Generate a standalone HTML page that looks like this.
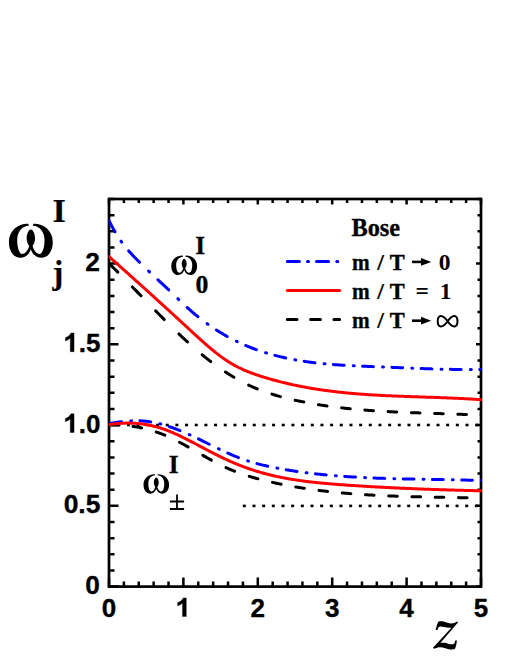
<!DOCTYPE html>
<html><head><meta charset="utf-8"><title>chart</title>
<style>html,body{margin:0;padding:0;background:#fff;}body{width:510px;height:659px;position:relative;overflow:hidden;font-family:"Liberation Sans",sans-serif;}</style>
</head><body>
<svg width="510" height="659" viewBox="0 0 510 659" style="position:absolute;left:0;top:0">
<defs><clipPath id="cp"><rect x="108.70" y="199.00" width="373.20" height="387.60"/></clipPath></defs>
<g fill="#000"><rect x="117.37" y="423.70" width="3" height="2.6"/><rect x="127.04" y="423.70" width="3" height="2.6"/><rect x="136.71" y="423.70" width="3" height="2.6"/><rect x="146.38" y="423.70" width="3" height="2.6"/><rect x="156.05" y="423.70" width="3" height="2.6"/><rect x="165.72" y="423.70" width="3" height="2.6"/><rect x="175.39" y="423.70" width="3" height="2.6"/><rect x="185.06" y="423.70" width="3" height="2.6"/><rect x="194.73" y="423.70" width="3" height="2.6"/><rect x="204.40" y="423.70" width="3" height="2.6"/><rect x="214.07" y="423.70" width="3" height="2.6"/><rect x="223.74" y="423.70" width="3" height="2.6"/><rect x="233.41" y="423.70" width="3" height="2.6"/><rect x="243.08" y="423.70" width="3" height="2.6"/><rect x="252.75" y="423.70" width="3" height="2.6"/><rect x="262.42" y="423.70" width="3" height="2.6"/><rect x="272.09" y="423.70" width="3" height="2.6"/><rect x="281.76" y="423.70" width="3" height="2.6"/><rect x="291.43" y="423.70" width="3" height="2.6"/><rect x="301.10" y="423.70" width="3" height="2.6"/><rect x="310.77" y="423.70" width="3" height="2.6"/><rect x="320.44" y="423.70" width="3" height="2.6"/><rect x="330.11" y="423.70" width="3" height="2.6"/><rect x="339.78" y="423.70" width="3" height="2.6"/><rect x="349.45" y="423.70" width="3" height="2.6"/><rect x="359.12" y="423.70" width="3" height="2.6"/><rect x="368.79" y="423.70" width="3" height="2.6"/><rect x="378.46" y="423.70" width="3" height="2.6"/><rect x="388.13" y="423.70" width="3" height="2.6"/><rect x="397.80" y="423.70" width="3" height="2.6"/><rect x="407.47" y="423.70" width="3" height="2.6"/><rect x="417.14" y="423.70" width="3" height="2.6"/><rect x="426.81" y="423.70" width="3" height="2.6"/><rect x="436.48" y="423.70" width="3" height="2.6"/><rect x="446.15" y="423.70" width="3" height="2.6"/><rect x="455.82" y="423.70" width="3" height="2.6"/><rect x="465.49" y="423.70" width="3" height="2.6"/><rect x="475.16" y="423.70" width="3" height="2.6"/><rect x="242.80" y="504.60" width="3" height="2.6"/><rect x="252.47" y="504.60" width="3" height="2.6"/><rect x="262.14" y="504.60" width="3" height="2.6"/><rect x="271.81" y="504.60" width="3" height="2.6"/><rect x="281.48" y="504.60" width="3" height="2.6"/><rect x="291.15" y="504.60" width="3" height="2.6"/><rect x="300.82" y="504.60" width="3" height="2.6"/><rect x="310.49" y="504.60" width="3" height="2.6"/><rect x="320.16" y="504.60" width="3" height="2.6"/><rect x="329.83" y="504.60" width="3" height="2.6"/><rect x="339.50" y="504.60" width="3" height="2.6"/><rect x="349.17" y="504.60" width="3" height="2.6"/><rect x="358.84" y="504.60" width="3" height="2.6"/><rect x="368.51" y="504.60" width="3" height="2.6"/><rect x="378.18" y="504.60" width="3" height="2.6"/><rect x="387.85" y="504.60" width="3" height="2.6"/><rect x="397.52" y="504.60" width="3" height="2.6"/><rect x="407.19" y="504.60" width="3" height="2.6"/><rect x="416.86" y="504.60" width="3" height="2.6"/><rect x="426.53" y="504.60" width="3" height="2.6"/><rect x="436.20" y="504.60" width="3" height="2.6"/><rect x="445.87" y="504.60" width="3" height="2.6"/><rect x="455.54" y="504.60" width="3" height="2.6"/><rect x="465.21" y="504.60" width="3" height="2.6"/><rect x="474.88" y="504.60" width="3" height="2.6"/></g>
<rect x="109.0" y="199.0" width="372.0" height="387.6" fill="none" stroke="#000" stroke-width="2.7"/>
<path d="M109.00,586.6 v-9.0 M109.00,199.0 v5.4 M123.88,586.6 v-5.0 M123.88,199.0 v3.9 M138.76,586.6 v-5.0 M138.76,199.0 v3.9 M153.64,586.6 v-5.0 M153.64,199.0 v3.9 M168.52,586.6 v-5.0 M168.52,199.0 v3.9 M183.40,586.6 v-9.0 M183.40,199.0 v5.4 M198.28,586.6 v-5.0 M198.28,199.0 v3.9 M213.16,586.6 v-5.0 M213.16,199.0 v3.9 M228.04,586.6 v-5.0 M228.04,199.0 v3.9 M242.92,586.6 v-5.0 M242.92,199.0 v3.9 M257.80,586.6 v-9.0 M257.80,199.0 v5.4 M272.68,586.6 v-5.0 M272.68,199.0 v3.9 M287.56,586.6 v-5.0 M287.56,199.0 v3.9 M302.44,586.6 v-5.0 M302.44,199.0 v3.9 M317.32,586.6 v-5.0 M317.32,199.0 v3.9 M332.20,586.6 v-9.0 M332.20,199.0 v5.4 M347.08,586.6 v-5.0 M347.08,199.0 v3.9 M361.96,586.6 v-5.0 M361.96,199.0 v3.9 M376.84,586.6 v-5.0 M376.84,199.0 v3.9 M391.72,586.6 v-5.0 M391.72,199.0 v3.9 M406.60,586.6 v-9.0 M406.60,199.0 v5.4 M421.48,586.6 v-5.0 M421.48,199.0 v3.9 M436.36,586.6 v-5.0 M436.36,199.0 v3.9 M451.24,586.6 v-5.0 M451.24,199.0 v3.9 M466.12,586.6 v-5.0 M466.12,199.0 v3.9 M481.00,586.6 v-9.0 M481.00,199.0 v5.4 M109.0,586.60 h9.5 M481.0,586.60 h-5.0 M109.0,570.45 h5.5 M481.0,570.45 h-3.5 M109.0,554.30 h5.5 M481.0,554.30 h-3.5 M109.0,538.15 h5.5 M481.0,538.15 h-3.5 M109.0,522.00 h5.5 M481.0,522.00 h-3.5 M109.0,505.85 h9.5 M481.0,505.85 h-5.0 M109.0,489.70 h5.5 M481.0,489.70 h-3.5 M109.0,473.55 h5.5 M481.0,473.55 h-3.5 M109.0,457.40 h5.5 M481.0,457.40 h-3.5 M109.0,441.25 h5.5 M481.0,441.25 h-3.5 M109.0,425.10 h9.5 M481.0,425.10 h-5.0 M109.0,408.95 h5.5 M481.0,408.95 h-3.5 M109.0,392.80 h5.5 M481.0,392.80 h-3.5 M109.0,376.65 h5.5 M481.0,376.65 h-3.5 M109.0,360.50 h5.5 M481.0,360.50 h-3.5 M109.0,344.35 h9.5 M481.0,344.35 h-5.0 M109.0,328.20 h5.5 M481.0,328.20 h-3.5 M109.0,312.05 h5.5 M481.0,312.05 h-3.5 M109.0,295.90 h5.5 M481.0,295.90 h-3.5 M109.0,279.75 h5.5 M481.0,279.75 h-3.5 M109.0,263.60 h9.5 M481.0,263.60 h-5.0 M109.0,247.45 h5.5 M481.0,247.45 h-3.5 M109.0,231.30 h5.5 M481.0,231.30 h-3.5 M109.0,215.15 h5.5 M481.0,215.15 h-3.5 M109.0,199.00 h5.5 M481.0,199.00 h-3.5" stroke="#000" stroke-width="2.5" fill="none"/>
<g clip-path="url(#cp)" fill="none" stroke-width="3.0" stroke-linecap="round" stroke-linejoin="round">
<path d="M109.15,263.58 L110.11,264.51 L111.06,265.45 L112.02,266.39 L112.97,267.33 L113.93,268.28 L114.88,269.22 L115.84,270.17 L116.79,271.13 L117.75,272.08" stroke="#000000"/>
<path d="M132.40,286.95 L133.36,287.93 L134.31,288.92 L135.27,289.90 L136.22,290.88 L137.18,291.86 L138.13,292.85 L139.09,293.83 L140.04,294.82 L141.00,295.80" stroke="#000000"/>
<path d="M155.65,310.85 L156.61,311.82 L157.56,312.79 L158.52,313.76 L159.47,314.73 L160.43,315.70 L161.38,316.67 L162.34,317.63 L163.29,318.59 L164.25,319.55" stroke="#000000"/>
<path d="M178.90,333.92 L179.86,334.83 L180.81,335.74 L181.77,336.64 L182.72,337.54 L183.68,338.43 L184.63,339.32 L185.59,340.21 L186.54,341.09 L187.50,341.96" stroke="#000000"/>
<path d="M202.15,354.73 L203.11,355.51 L204.06,356.29 L205.02,357.06 L205.97,357.83 L206.93,358.59 L207.88,359.34 L208.84,360.09 L209.79,360.83 L210.75,361.56" stroke="#000000"/>
<path d="M225.40,371.97 L226.36,372.59 L227.31,373.21 L228.27,373.82 L229.22,374.42 L230.18,375.01 L231.13,375.60 L232.09,376.18 L233.04,376.76 L234.00,377.33" stroke="#000000"/>
<path d="M248.65,385.11 L249.61,385.56 L250.56,386.00 L251.52,386.43 L252.47,386.86 L253.43,387.28 L254.38,387.69 L255.34,388.10 L256.29,388.50 L257.25,388.89" stroke="#000000"/>
<path d="M271.90,394.14 L272.86,394.44 L273.81,394.73 L274.77,395.02 L275.72,395.30 L276.68,395.58 L277.63,395.86 L278.59,396.13 L279.54,396.39 L280.50,396.66" stroke="#000000"/>
<path d="M295.15,400.24 L296.11,400.45 L297.06,400.65 L298.02,400.86 L298.97,401.06 L299.93,401.26 L300.88,401.46 L301.84,401.65 L302.79,401.84 L303.75,402.03" stroke="#000000"/>
<path d="M318.40,404.67 L319.36,404.82 L320.31,404.97 L321.27,405.12 L322.22,405.27 L323.18,405.42 L324.13,405.56 L325.09,405.70 L326.04,405.85 L327.00,405.98" stroke="#000000"/>
<path d="M341.65,407.88 L342.61,407.98 L343.56,408.09 L344.52,408.20 L345.47,408.30 L346.43,408.41 L347.38,408.51 L348.34,408.61 L349.29,408.70 L350.25,408.80" stroke="#000000"/>
<path d="M364.90,410.11 L365.86,410.18 L366.81,410.25 L367.77,410.33 L368.72,410.40 L369.68,410.47 L370.63,410.53 L371.59,410.60 L372.54,410.67 L373.50,410.73" stroke="#000000"/>
<path d="M388.15,411.61 L389.11,411.66 L390.06,411.71 L391.02,411.75 L391.97,411.80 L392.93,411.85 L393.88,411.89 L394.84,411.94 L395.79,411.98 L396.75,412.03" stroke="#000000"/>
<path d="M411.40,412.63 L412.36,412.66 L413.31,412.70 L414.27,412.73 L415.22,412.77 L416.18,412.80 L417.13,412.83 L418.09,412.87 L419.04,412.90 L420.00,412.93" stroke="#000000"/>
<path d="M434.65,413.41 L435.61,413.44 L436.56,413.48 L437.52,413.51 L438.47,413.54 L439.43,413.57 L440.38,413.60 L441.34,413.63 L442.29,413.66 L443.25,413.69" stroke="#000000"/>
<path d="M457.90,414.21 L458.86,414.25 L459.81,414.29 L460.77,414.32 L461.72,414.36 L462.68,414.40 L463.63,414.44 L464.59,414.48 L465.54,414.52 L466.50,414.56" stroke="#000000"/>
<path d="M481.15,415.27 L482.07,415.32 L483.00,415.37" stroke="#000000"/>
<path d="M128.65,250.82 L129.63,251.94 L130.61,253.03 L131.60,254.11 L132.58,255.16 L133.56,256.19 L134.54,257.21 L135.52,258.22 L136.50,259.22 L137.49,260.20 L138.47,261.18 L139.45,262.15" stroke="#0000ff"/>
<path d="M148.60,271.05 L149.50,271.91" stroke="#0000ff"/>
<path d="M157.90,279.81 L158.88,280.72 L159.86,281.63 L160.85,282.54 L161.83,283.44 L162.81,284.35 L163.79,285.26 L164.77,286.17 L165.75,287.08 L166.74,288.00 L167.72,288.92 L168.70,289.85" stroke="#0000ff"/>
<path d="M177.85,298.68 L178.75,299.55" stroke="#0000ff"/>
<path d="M187.15,307.47 L188.13,308.36 L189.11,309.24 L190.10,310.11 L191.08,310.96 L192.06,311.81 L193.04,312.65 L194.02,313.49 L195.00,314.31 L195.99,315.12 L196.97,315.92 L197.95,316.72" stroke="#0000ff"/>
<path d="M207.10,323.68 L208.00,324.33" stroke="#0000ff"/>
<path d="M216.40,330.01 L217.38,330.63 L218.36,331.25 L219.35,331.86 L220.33,332.46 L221.31,333.05 L222.29,333.64 L223.27,334.22 L224.25,334.79 L225.24,335.35 L226.22,335.91 L227.20,336.45" stroke="#0000ff"/>
<path d="M236.35,341.22 L237.25,341.66" stroke="#0000ff"/>
<path d="M245.65,345.46 L246.63,345.87 L247.61,346.28 L248.60,346.68 L249.58,347.08 L250.56,347.47 L251.54,347.85 L252.52,348.23 L253.50,348.60 L254.49,348.97 L255.47,349.33 L256.45,349.68" stroke="#0000ff"/>
<path d="M265.60,352.73 L266.50,353.01" stroke="#0000ff"/>
<path d="M274.90,355.38 L275.88,355.64 L276.86,355.89 L277.85,356.14 L278.83,356.38 L279.81,356.62 L280.79,356.85 L281.77,357.08 L282.75,357.31 L283.74,357.53 L284.72,357.75 L285.70,357.96" stroke="#0000ff"/>
<path d="M294.85,359.78 L295.75,359.94" stroke="#0000ff"/>
<path d="M304.15,361.32 L305.13,361.47 L306.11,361.61 L307.10,361.75 L308.08,361.89 L309.06,362.02 L310.04,362.16 L311.02,362.28 L312.00,362.41 L312.99,362.53 L313.97,362.66 L314.95,362.77" stroke="#0000ff"/>
<path d="M324.10,363.76 L325.00,363.84" stroke="#0000ff"/>
<path d="M333.40,364.56 L334.38,364.64 L335.36,364.71 L336.35,364.78 L337.33,364.85 L338.31,364.92 L339.29,364.99 L340.27,365.05 L341.25,365.12 L342.24,365.18 L343.22,365.24 L344.20,365.30" stroke="#0000ff"/>
<path d="M353.35,365.79 L354.25,365.84" stroke="#0000ff"/>
<path d="M362.65,366.21 L363.63,366.25 L364.61,366.29 L365.60,366.33 L366.58,366.37 L367.56,366.41 L368.54,366.45 L369.52,366.48 L370.50,366.52 L371.49,366.56 L372.47,366.60 L373.45,366.63" stroke="#0000ff"/>
<path d="M382.60,366.98 L383.50,367.02" stroke="#0000ff"/>
<path d="M391.90,367.35 L392.88,367.39 L393.86,367.43 L394.85,367.47 L395.83,367.51 L396.81,367.55 L397.79,367.60 L398.77,367.64 L399.75,367.68 L400.74,367.72 L401.72,367.76 L402.70,367.80" stroke="#0000ff"/>
<path d="M411.85,368.17 L412.75,368.20" stroke="#0000ff"/>
<path d="M421.15,368.52 L422.13,368.56 L423.11,368.60 L424.10,368.63 L425.08,368.67 L426.06,368.70 L427.04,368.73 L428.02,368.77 L429.00,368.80 L429.99,368.83 L430.97,368.86 L431.95,368.89" stroke="#0000ff"/>
<path d="M441.10,369.16 L442.00,369.18" stroke="#0000ff"/>
<path d="M450.40,369.36 L451.38,369.37 L452.36,369.39 L453.35,369.40 L454.33,369.42 L455.31,369.43 L456.29,369.44 L457.27,369.45 L458.25,369.46 L459.24,369.47 L460.22,369.48 L461.20,369.49" stroke="#0000ff"/>
<path d="M470.35,369.50 L471.25,369.50" stroke="#0000ff"/>
<path d="M479.65,369.40 L480.49,369.39 L481.32,369.37 L482.16,369.36 L483.00,369.34" stroke="#0000ff"/>
<path d="M109.00,220.61 L109.86,222.35 L110.71,224.04 L111.57,225.69 L112.43,227.29 L113.29,228.85 L114.14,230.36 L115.00,231.83" stroke="#0000ff"/>
<path d="M121.00,241.11 L121.70,242.09" stroke="#0000ff"/>
<path d="M109.00,256.59 L110.00,257.48 L110.99,258.37 L111.99,259.26 L112.99,260.14 L113.99,261.03 L114.98,261.92 L115.98,262.81 L116.98,263.70 L117.98,264.59 L118.97,265.48 L119.97,266.37 L120.97,267.26 L121.97,268.15 L122.96,269.04 L123.96,269.93 L124.96,270.83 L125.95,271.72 L126.95,272.61 L127.95,273.50 L128.95,274.40 L129.94,275.29 L130.94,276.19 L131.94,277.08 L132.94,277.98 L133.93,278.87 L134.93,279.77 L135.93,280.66 L136.92,281.56 L137.92,282.46 L138.92,283.36 L139.92,284.25 L140.91,285.15 L141.91,286.05 L142.91,286.95 L143.91,287.85 L144.90,288.75 L145.90,289.65 L146.90,290.55 L147.90,291.46 L148.89,292.36 L149.89,293.26 L150.89,294.16 L151.88,295.07 L152.88,295.97 L153.88,296.87 L154.88,297.78 L155.87,298.69 L156.87,299.59 L157.87,300.50 L158.87,301.40 L159.86,302.31 L160.86,303.22 L161.86,304.13 L162.86,305.04 L163.85,305.95 L164.85,306.86 L165.85,307.77 L166.84,308.68 L167.84,309.59 L168.84,310.50 L169.84,311.41 L170.83,312.33 L171.83,313.24 L172.83,314.15 L173.83,315.07 L174.82,315.98 L175.82,316.90 L176.82,317.82 L177.82,318.73 L178.81,319.65 L179.81,320.57 L180.81,321.49 L181.80,322.41 L182.80,323.32 L183.80,324.25 L184.80,325.17 L185.79,326.09 L186.79,327.01 L187.79,327.93 L188.79,328.85 L189.78,329.78 L190.78,330.70 L191.78,331.62 L192.77,332.54 L193.77,333.46 L194.77,334.38 L195.77,335.29 L196.76,336.21 L197.76,337.12 L198.76,338.02 L199.76,338.93 L200.75,339.82 L201.75,340.72 L202.75,341.61 L203.75,342.49 L204.74,343.37 L205.74,344.25 L206.74,345.11 L207.73,345.97 L208.73,346.83 L209.73,347.67 L210.73,348.51 L211.72,349.34 L212.72,350.17 L213.72,350.98 L214.72,351.78 L215.71,352.58 L216.71,353.36 L217.71,354.14 L218.71,354.91 L219.70,355.66 L220.70,356.40 L221.70,357.13 L222.69,357.85 L223.69,358.56 L224.69,359.25 L225.69,359.93 L226.68,360.60 L227.68,361.25 L228.68,361.89 L229.68,362.52 L230.67,363.13 L231.67,363.73 L232.67,364.31 L233.66,364.87 L234.66,365.43 L235.66,365.96 L236.66,366.49 L237.65,367.00 L238.65,367.51 L239.65,367.99 L240.65,368.47 L241.64,368.94 L242.64,369.39 L243.64,369.84 L244.64,370.27 L245.63,370.70 L246.63,371.11 L247.63,371.52 L248.62,371.91 L249.62,372.30 L250.62,372.68 L251.62,373.06 L252.61,373.42 L253.61,373.78 L254.61,374.14 L255.61,374.48 L256.60,374.82 L257.60,375.16 L258.60,375.49 L259.60,375.82 L260.59,376.14 L261.59,376.45 L262.59,376.77 L263.58,377.08 L264.58,377.39 L265.58,377.69 L266.58,377.99 L267.57,378.29 L268.57,378.58 L269.57,378.87 L270.57,379.16 L271.56,379.44 L272.56,379.72 L273.56,380.00 L274.55,380.27 L275.55,380.54 L276.55,380.81 L277.55,381.07 L278.54,381.33 L279.54,381.59 L280.54,381.85 L281.54,382.10 L282.53,382.35 L283.53,382.59 L284.53,382.83 L285.53,383.07 L286.52,383.31 L287.52,383.54 L288.52,383.77 L289.51,384.00 L290.51,384.23 L291.51,384.45 L292.51,384.67 L293.50,384.88 L294.50,385.10 L295.50,385.31 L296.50,385.52 L297.49,385.72 L298.49,385.92 L299.49,386.12 L300.49,386.32 L301.48,386.51 L302.48,386.71 L303.48,386.89 L304.47,387.08 L305.47,387.27 L306.47,387.45 L307.47,387.63 L308.46,387.80 L309.46,387.98 L310.46,388.15 L311.46,388.32 L312.45,388.48 L313.45,388.65 L314.45,388.81 L315.45,388.97 L316.44,389.13 L317.44,389.28 L318.44,389.43 L319.43,389.58 L320.43,389.73 L321.43,389.88 L322.43,390.02 L323.42,390.16 L324.42,390.30 L325.42,390.44 L326.42,390.58 L327.41,390.71 L328.41,390.84 L329.41,390.97 L330.40,391.10 L331.40,391.22 L332.40,391.34 L333.40,391.46 L334.39,391.58 L335.39,391.70 L336.39,391.82 L337.39,391.93 L338.38,392.04 L339.38,392.15 L340.38,392.26 L341.38,392.36 L342.37,392.47 L343.37,392.57 L344.37,392.67 L345.36,392.77 L346.36,392.87 L347.36,392.96 L348.36,393.06 L349.35,393.15 L350.35,393.24 L351.35,393.33 L352.35,393.42 L353.34,393.50 L354.34,393.59 L355.34,393.67 L356.34,393.75 L357.33,393.83 L358.33,393.91 L359.33,393.99 L360.32,394.07 L361.32,394.14 L362.32,394.22 L363.32,394.29 L364.31,394.36 L365.31,394.43 L366.31,394.50 L367.31,394.56 L368.30,394.63 L369.30,394.69 L370.30,394.76 L371.29,394.82 L372.29,394.88 L373.29,394.94 L374.29,395.00 L375.28,395.06 L376.28,395.12 L377.28,395.17 L378.28,395.23 L379.27,395.28 L380.27,395.34 L381.27,395.39 L382.27,395.44 L383.26,395.49 L384.26,395.54 L385.26,395.59 L386.25,395.64 L387.25,395.68 L388.25,395.73 L389.25,395.78 L390.24,395.82 L391.24,395.87 L392.24,395.91 L393.24,395.95 L394.23,395.99 L395.23,396.04 L396.23,396.08 L397.23,396.12 L398.22,396.16 L399.22,396.20 L400.22,396.24 L401.21,396.27 L402.21,396.31 L403.21,396.35 L404.21,396.39 L405.20,396.42 L406.20,396.46 L407.20,396.50 L408.20,396.53 L409.19,396.57 L410.19,396.60 L411.19,396.64 L412.18,396.67 L413.18,396.70 L414.18,396.74 L415.18,396.77 L416.17,396.81 L417.17,396.84 L418.17,396.87 L419.17,396.91 L420.16,396.94 L421.16,396.97 L422.16,397.01 L423.16,397.04 L424.15,397.07 L425.15,397.11 L426.15,397.14 L427.14,397.17 L428.14,397.21 L429.14,397.24 L430.14,397.27 L431.13,397.31 L432.13,397.34 L433.13,397.37 L434.13,397.41 L435.12,397.44 L436.12,397.48 L437.12,397.51 L438.12,397.55 L439.11,397.59 L440.11,397.62 L441.11,397.66 L442.10,397.70 L443.10,397.73 L444.10,397.77 L445.10,397.81 L446.09,397.85 L447.09,397.89 L448.09,397.93 L449.09,397.97 L450.08,398.01 L451.08,398.05 L452.08,398.09 L453.08,398.13 L454.07,398.18 L455.07,398.22 L456.07,398.27 L457.06,398.31 L458.06,398.36 L459.06,398.41 L460.06,398.45 L461.05,398.50 L462.05,398.55 L463.05,398.60 L464.05,398.65 L465.04,398.71 L466.04,398.76 L467.04,398.81 L468.03,398.87 L469.03,398.92 L470.03,398.98 L471.03,399.04 L472.02,399.10 L473.02,399.16 L474.02,399.22 L475.02,399.28 L476.01,399.35 L477.01,399.41 L478.01,399.48 L479.01,399.54 L480.00,399.61 L481.00,399.68" stroke="#ff0000"/>
<path d="M109.75,425.00 L110.71,424.99 L111.66,424.98 L112.62,424.98 L113.57,424.99 L114.53,425.00 L115.48,425.02 L116.44,425.04 L117.39,425.07 L118.35,425.11" stroke="#000000"/>
<path d="M133.00,426.44 L133.96,426.59 L134.91,426.73 L135.87,426.89 L136.82,427.05 L137.78,427.22 L138.73,427.40 L139.69,427.58 L140.64,427.78 L141.60,427.98" stroke="#000000"/>
<path d="M156.25,431.99 L157.21,432.32 L158.16,432.65 L159.12,433.00 L160.07,433.35 L161.03,433.71 L161.98,434.08 L162.94,434.46 L163.89,434.84 L164.85,435.24" stroke="#000000"/>
<path d="M179.50,442.23 L180.46,442.74 L181.41,443.25 L182.37,443.77 L183.32,444.28 L184.28,444.81 L185.23,445.33 L186.19,445.86 L187.14,446.39 L188.10,446.93" stroke="#000000"/>
<path d="M202.75,455.30 L203.71,455.85 L204.66,456.39 L205.62,456.93 L206.57,457.47 L207.53,458.01 L208.48,458.54 L209.44,459.07 L210.39,459.60 L211.35,460.13" stroke="#000000"/>
<path d="M226.00,467.58 L226.96,468.01 L227.91,468.44 L228.87,468.86 L229.82,469.27 L230.78,469.68 L231.73,470.08 L232.69,470.47 L233.64,470.86 L234.60,471.24" stroke="#000000"/>
<path d="M249.25,476.36 L250.21,476.65 L251.16,476.93 L252.12,477.22 L253.07,477.50 L254.03,477.77 L254.98,478.04 L255.94,478.30 L256.89,478.57 L257.85,478.82" stroke="#000000"/>
<path d="M272.50,482.38 L273.46,482.60 L274.41,482.80 L275.37,483.01 L276.32,483.22 L277.28,483.42 L278.23,483.62 L279.19,483.82 L280.14,484.01 L281.10,484.21" stroke="#000000"/>
<path d="M295.75,486.94 L296.71,487.11 L297.66,487.27 L298.62,487.42 L299.57,487.58 L300.53,487.74 L301.48,487.89 L302.44,488.04 L303.39,488.19 L304.35,488.34" stroke="#000000"/>
<path d="M319.00,490.40 L319.96,490.52 L320.91,490.64 L321.87,490.76 L322.82,490.88 L323.78,490.99 L324.73,491.11 L325.69,491.22 L326.64,491.33 L327.60,491.44" stroke="#000000"/>
<path d="M342.25,492.93 L343.21,493.02 L344.16,493.10 L345.12,493.19 L346.07,493.27 L347.03,493.35 L347.98,493.43 L348.94,493.51 L349.89,493.59 L350.85,493.67" stroke="#000000"/>
<path d="M365.50,494.71 L366.46,494.76 L367.41,494.82 L368.37,494.88 L369.32,494.94 L370.28,494.99 L371.23,495.05 L372.19,495.10 L373.14,495.15 L374.10,495.20" stroke="#000000"/>
<path d="M388.75,495.89 L389.71,495.93 L390.66,495.97 L391.62,496.00 L392.57,496.04 L393.53,496.08 L394.48,496.11 L395.44,496.15 L396.39,496.18 L397.35,496.21" stroke="#000000"/>
<path d="M412.00,496.66 L412.96,496.68 L413.91,496.71 L414.87,496.73 L415.82,496.76 L416.78,496.78 L417.73,496.80 L418.69,496.82 L419.64,496.85 L420.60,496.87" stroke="#000000"/>
<path d="M435.25,497.18 L436.21,497.20 L437.16,497.21 L438.12,497.23 L439.07,497.25 L440.03,497.27 L440.98,497.29 L441.94,497.31 L442.89,497.32 L443.85,497.34" stroke="#000000"/>
<path d="M458.50,497.62 L459.46,497.64 L460.41,497.66 L461.37,497.68 L462.32,497.70 L463.28,497.72 L464.23,497.74 L465.19,497.76 L466.14,497.78 L467.10,497.80" stroke="#000000"/>
<path d="M481.75,498.16 L482.38,498.17 L483.00,498.19" stroke="#000000"/>
<path d="M110.70,423.33 L111.68,423.16 L112.66,422.99 L113.65,422.83 L114.63,422.67 L115.61,422.52 L116.59,422.37 L117.57,422.22 L118.55,422.09 L119.54,421.95 L120.52,421.83 L121.50,421.71" stroke="#0000ff"/>
<path d="M130.65,420.90 L131.55,420.86" stroke="#0000ff"/>
<path d="M139.95,420.83 L140.93,420.87 L141.91,420.92 L142.90,420.99 L143.88,421.06 L144.86,421.15 L145.84,421.25 L146.82,421.36 L147.80,421.48 L148.79,421.61 L149.77,421.75 L150.75,421.90" stroke="#0000ff"/>
<path d="M159.90,423.81 L160.80,424.05" stroke="#0000ff"/>
<path d="M169.20,426.56 L170.18,426.89 L171.16,427.23 L172.15,427.57 L173.13,427.93 L174.11,428.29 L175.09,428.65 L176.07,429.03 L177.05,429.40 L178.04,429.79 L179.02,430.18 L180.00,430.58" stroke="#0000ff"/>
<path d="M189.15,434.53 L190.05,434.94" stroke="#0000ff"/>
<path d="M198.45,438.91 L199.43,439.39 L200.41,439.86 L201.40,440.34 L202.38,440.83 L203.36,441.31 L204.34,441.79 L205.32,442.28 L206.30,442.76 L207.29,443.25 L208.27,443.73 L209.25,444.22" stroke="#0000ff"/>
<path d="M218.40,448.70 L219.30,449.13" stroke="#0000ff"/>
<path d="M227.70,453.04 L228.68,453.48 L229.66,453.91 L230.65,454.34 L231.63,454.77 L232.61,455.19 L233.59,455.60 L234.57,456.01 L235.55,456.41 L236.54,456.81 L237.52,457.20 L238.50,457.58" stroke="#0000ff"/>
<path d="M247.65,460.83 L248.55,461.12" stroke="#0000ff"/>
<path d="M256.95,463.60 L257.93,463.86 L258.91,464.12 L259.90,464.37 L260.88,464.62 L261.86,464.87 L262.84,465.11 L263.82,465.35 L264.80,465.58 L265.79,465.81 L266.77,466.03 L267.75,466.25" stroke="#0000ff"/>
<path d="M276.90,468.12 L277.80,468.29" stroke="#0000ff"/>
<path d="M286.20,469.77 L287.18,469.93 L288.16,470.09 L289.15,470.25 L290.13,470.41 L291.11,470.56 L292.09,470.71 L293.07,470.86 L294.05,471.01 L295.04,471.16 L296.02,471.30 L297.00,471.45" stroke="#0000ff"/>
<path d="M306.15,472.69 L307.05,472.81" stroke="#0000ff"/>
<path d="M315.45,473.81 L316.43,473.92 L317.41,474.02 L318.40,474.13 L319.38,474.23 L320.36,474.34 L321.34,474.44 L322.32,474.54 L323.30,474.64 L324.29,474.73 L325.27,474.83 L326.25,474.92" stroke="#0000ff"/>
<path d="M335.40,475.73 L336.30,475.81" stroke="#0000ff"/>
<path d="M344.70,476.44 L345.68,476.51 L346.66,476.57 L347.65,476.64 L348.63,476.70 L349.61,476.77 L350.59,476.83 L351.57,476.89 L352.55,476.95 L353.54,477.01 L354.52,477.07 L355.50,477.12" stroke="#0000ff"/>
<path d="M364.65,477.61 L365.55,477.65" stroke="#0000ff"/>
<path d="M373.95,478.02 L374.93,478.05 L375.91,478.09 L376.90,478.13 L377.88,478.17 L378.86,478.20 L379.84,478.24 L380.82,478.27 L381.80,478.31 L382.79,478.34 L383.77,478.37 L384.75,478.40" stroke="#0000ff"/>
<path d="M393.90,478.67 L394.80,478.70" stroke="#0000ff"/>
<path d="M403.20,478.90 L404.18,478.92 L405.16,478.94 L406.15,478.96 L407.13,478.98 L408.11,479.00 L409.09,479.02 L410.07,479.04 L411.05,479.06 L412.04,479.08 L413.02,479.10 L414.00,479.12" stroke="#0000ff"/>
<path d="M423.15,479.28 L424.05,479.30" stroke="#0000ff"/>
<path d="M432.45,479.44 L433.43,479.46 L434.41,479.47 L435.40,479.49 L436.38,479.51 L437.36,479.52 L438.34,479.54 L439.32,479.56 L440.30,479.57 L441.29,479.59 L442.27,479.61 L443.25,479.62" stroke="#0000ff"/>
<path d="M452.40,479.80 L453.30,479.81" stroke="#0000ff"/>
<path d="M461.70,480.00 L462.68,480.02 L463.66,480.04 L464.65,480.07 L465.63,480.09 L466.61,480.12 L467.59,480.14 L468.57,480.17 L469.55,480.19 L470.54,480.22 L471.52,480.25 L472.50,480.28" stroke="#0000ff"/>
<path d="M481.65,480.57 L482.55,480.60" stroke="#0000ff"/>
<path d="M109.00,424.71 L110.00,424.55 L110.99,424.40 L111.99,424.25 L112.99,424.11 L113.99,423.98 L114.98,423.87 L115.98,423.75 L116.98,423.65 L117.98,423.56 L118.97,423.47 L119.97,423.39 L120.97,423.33 L121.97,423.27 L122.96,423.21 L123.96,423.17 L124.96,423.14 L125.95,423.12 L126.95,423.10 L127.95,423.09 L128.95,423.10 L129.94,423.11 L130.94,423.13 L131.94,423.16 L132.94,423.20 L133.93,423.25 L134.93,423.30 L135.93,423.37 L136.92,423.45 L137.92,423.53 L138.92,423.63 L139.92,423.73 L140.91,423.84 L141.91,423.97 L142.91,424.10 L143.91,424.24 L144.90,424.40 L145.90,424.56 L146.90,424.73 L147.90,424.91 L148.89,425.10 L149.89,425.30 L150.89,425.51 L151.88,425.73 L152.88,425.97 L153.88,426.21 L154.88,426.46 L155.87,426.72 L156.87,426.99 L157.87,427.27 L158.87,427.56 L159.86,427.86 L160.86,428.18 L161.86,428.50 L162.86,428.83 L163.85,429.18 L164.85,429.53 L165.85,429.89 L166.84,430.27 L167.84,430.65 L168.84,431.04 L169.84,431.44 L170.83,431.85 L171.83,432.27 L172.83,432.70 L173.83,433.13 L174.82,433.57 L175.82,434.02 L176.82,434.48 L177.82,434.94 L178.81,435.40 L179.81,435.88 L180.81,436.36 L181.80,436.84 L182.80,437.33 L183.80,437.82 L184.80,438.32 L185.79,438.82 L186.79,439.33 L187.79,439.84 L188.79,440.35 L189.78,440.86 L190.78,441.38 L191.78,441.90 L192.77,442.42 L193.77,442.94 L194.77,443.47 L195.77,443.99 L196.76,444.52 L197.76,445.04 L198.76,445.57 L199.76,446.09 L200.75,446.62 L201.75,447.15 L202.75,447.67 L203.75,448.20 L204.74,448.72 L205.74,449.24 L206.74,449.77 L207.73,450.29 L208.73,450.81 L209.73,451.32 L210.73,451.84 L211.72,452.36 L212.72,452.87 L213.72,453.38 L214.72,453.89 L215.71,454.39 L216.71,454.89 L217.71,455.39 L218.71,455.89 L219.70,456.38 L220.70,456.87 L221.70,457.36 L222.69,457.84 L223.69,458.32 L224.69,458.79 L225.69,459.26 L226.68,459.73 L227.68,460.19 L228.68,460.65 L229.68,461.10 L230.67,461.54 L231.67,461.98 L232.67,462.42 L233.66,462.85 L234.66,463.27 L235.66,463.69 L236.66,464.10 L237.65,464.51 L238.65,464.91 L239.65,465.31 L240.65,465.70 L241.64,466.08 L242.64,466.46 L243.64,466.83 L244.64,467.20 L245.63,467.56 L246.63,467.92 L247.63,468.27 L248.62,468.62 L249.62,468.96 L250.62,469.29 L251.62,469.62 L252.61,469.95 L253.61,470.27 L254.61,470.59 L255.61,470.90 L256.60,471.20 L257.60,471.51 L258.60,471.80 L259.60,472.09 L260.59,472.38 L261.59,472.66 L262.59,472.94 L263.58,473.22 L264.58,473.49 L265.58,473.75 L266.58,474.01 L267.57,474.27 L268.57,474.52 L269.57,474.77 L270.57,475.01 L271.56,475.25 L272.56,475.49 L273.56,475.72 L274.55,475.94 L275.55,476.17 L276.55,476.39 L277.55,476.60 L278.54,476.82 L279.54,477.02 L280.54,477.23 L281.54,477.43 L282.53,477.63 L283.53,477.82 L284.53,478.01 L285.53,478.20 L286.52,478.38 L287.52,478.56 L288.52,478.74 L289.51,478.91 L290.51,479.08 L291.51,479.25 L292.51,479.42 L293.50,479.58 L294.50,479.74 L295.50,479.89 L296.50,480.04 L297.49,480.19 L298.49,480.34 L299.49,480.48 L300.49,480.63 L301.48,480.76 L302.48,480.90 L303.48,481.03 L304.47,481.17 L305.47,481.29 L306.47,481.42 L307.47,481.54 L308.46,481.67 L309.46,481.79 L310.46,481.90 L311.46,482.02 L312.45,482.13 L313.45,482.24 L314.45,482.35 L315.45,482.46 L316.44,482.56 L317.44,482.67 L318.44,482.77 L319.43,482.87 L320.43,482.96 L321.43,483.06 L322.43,483.15 L323.42,483.25 L324.42,483.34 L325.42,483.43 L326.42,483.52 L327.41,483.61 L328.41,483.69 L329.41,483.78 L330.40,483.86 L331.40,483.94 L332.40,484.02 L333.40,484.10 L334.39,484.18 L335.39,484.26 L336.39,484.34 L337.39,484.41 L338.38,484.49 L339.38,484.56 L340.38,484.63 L341.38,484.71 L342.37,484.78 L343.37,484.85 L344.37,484.92 L345.36,484.99 L346.36,485.06 L347.36,485.13 L348.36,485.20 L349.35,485.27 L350.35,485.34 L351.35,485.41 L352.35,485.47 L353.34,485.54 L354.34,485.61 L355.34,485.67 L356.34,485.74 L357.33,485.80 L358.33,485.87 L359.33,485.93 L360.32,485.99 L361.32,486.06 L362.32,486.12 L363.32,486.18 L364.31,486.24 L365.31,486.30 L366.31,486.36 L367.31,486.42 L368.30,486.48 L369.30,486.54 L370.30,486.60 L371.29,486.65 L372.29,486.71 L373.29,486.77 L374.29,486.83 L375.28,486.88 L376.28,486.94 L377.28,486.99 L378.28,487.05 L379.27,487.10 L380.27,487.16 L381.27,487.21 L382.27,487.26 L383.26,487.31 L384.26,487.37 L385.26,487.42 L386.25,487.47 L387.25,487.52 L388.25,487.57 L389.25,487.62 L390.24,487.67 L391.24,487.72 L392.24,487.77 L393.24,487.82 L394.23,487.87 L395.23,487.91 L396.23,487.96 L397.23,488.01 L398.22,488.05 L399.22,488.10 L400.22,488.14 L401.21,488.19 L402.21,488.24 L403.21,488.28 L404.21,488.32 L405.20,488.37 L406.20,488.41 L407.20,488.45 L408.20,488.50 L409.19,488.54 L410.19,488.58 L411.19,488.62 L412.18,488.66 L413.18,488.70 L414.18,488.74 L415.18,488.79 L416.17,488.82 L417.17,488.86 L418.17,488.90 L419.17,488.94 L420.16,488.98 L421.16,489.02 L422.16,489.06 L423.16,489.09 L424.15,489.13 L425.15,489.17 L426.15,489.20 L427.14,489.24 L428.14,489.28 L429.14,489.31 L430.14,489.35 L431.13,489.38 L432.13,489.42 L433.13,489.45 L434.13,489.49 L435.12,489.52 L436.12,489.55 L437.12,489.59 L438.12,489.62 L439.11,489.65 L440.11,489.68 L441.11,489.72 L442.10,489.75 L443.10,489.78 L444.10,489.81 L445.10,489.84 L446.09,489.87 L447.09,489.90 L448.09,489.93 L449.09,489.96 L450.08,489.99 L451.08,490.02 L452.08,490.05 L453.08,490.08 L454.07,490.11 L455.07,490.14 L456.07,490.16 L457.06,490.19 L458.06,490.22 L459.06,490.25 L460.06,490.27 L461.05,490.30 L462.05,490.33 L463.05,490.36 L464.05,490.38 L465.04,490.41 L466.04,490.43 L467.04,490.46 L468.03,490.48 L469.03,490.51 L470.03,490.53 L471.03,490.56 L472.02,490.58 L473.02,490.61 L474.02,490.63 L475.02,490.66 L476.01,490.68 L477.01,490.70 L478.01,490.73 L479.01,490.75 L480.00,490.77 L481.00,490.80" stroke="#ff0000"/>
</g>
<g fill="none" stroke-width="3" stroke-linecap="round">
<path d="M287.3,261.4 H299.4 M307.5,261.4 H308.5 M316.5,261.4 H328.6 M336.8,261.4 H337.8" stroke="#00f"/>
<path d="M287.3,290.5 H339.6" stroke="#f00"/>
<path d="M287.3,319.5 H297 M310.6,319.5 H320.4 M333.9,319.5 H339.6" stroke="#000"/>
</g>
<path d="M412.0,261.9 H425.2" stroke="#000" stroke-width="2.6" fill="none"/><path d="M431.2,261.9 L421.0,258.0 L421.0,265.79999999999995 Z" fill="#000"/>
<path d="M412.0,320.7 H425.2" stroke="#000" stroke-width="2.6" fill="none"/><path d="M431.2,320.7 L421.0,316.8 L421.0,324.59999999999997 Z" fill="#000"/>
<path d="M447.6,321.2 C452.20,314.50 457.50,313.90 457.50,321.20 C457.50,328.50 452.20,327.90 447.60,321.20 C443.00,314.50 437.70,313.90 437.70,321.20 C437.70,328.50 443.00,327.90 447.60,321.20 Z" fill="none" stroke="#000" stroke-width="2.0" stroke-linejoin="round"/>
<path d="M169.9,501.5 H184.1 M177,494.4 V509 M169.9,509 H184.1" stroke="#000" stroke-width="1.8" fill="none"/>
<path d="M435.62,629.96 C436.33,627.00 437.17,623.82 438.23,621.70 C441.41,620.79 444.58,621.70 447.41,622.76 C450.58,623.96 454.11,623.82 457.29,621.56 L458.13,622.27 L440.35,643.09 C443.17,642.38 446.35,643.09 449.17,643.93 C451.64,644.64 453.76,644.50 454.46,643.23 C454.82,642.38 455.03,641.46 455.24,640.55 L456.93,640.41 C456.58,643.93 455.88,647.11 454.82,649.02 C451.99,650.07 448.47,649.23 445.29,648.17 C441.76,646.90 437.88,646.76 434.00,648.87 L432.94,647.82 L451.43,627.70 C449.17,628.13 446.49,627.70 443.88,627.00 C441.41,626.29 439.29,626.29 438.44,627.56 C438.02,628.41 437.74,629.26 437.46,630.10 Z" fill="#000"/>
<path d="M28.27,223.81 C18.80,223.29 8.90,230.11 8.90,241.86 C8.90,252.66 14.50,257.80 20.41,257.80 C25.79,257.80 29.56,253.71 30.85,249.20 C32.14,253.71 35.91,257.80 41.29,257.80 C47.20,257.80 52.80,252.66 52.80,241.86 C52.80,230.11 42.90,223.29 33.43,223.81 L32.79,225.70 C39.89,225.91 44.51,232.21 44.51,240.07 C44.51,247.94 42.36,254.02 39.46,254.02 C36.45,254.02 33.65,250.04 32.57,246.05 C34.08,243.74 35.05,241.12 35.05,238.50 C35.05,234.30 33.22,229.58 30.85,229.48 C28.48,229.58 26.65,234.30 26.65,238.50 C26.65,241.12 27.62,243.74 29.13,246.05 C28.05,250.04 25.25,254.02 22.24,254.02 C19.34,254.02 17.19,247.94 17.19,240.07 C17.19,232.21 21.81,225.91 28.91,225.70 Z" fill="#000"/>
<path d="M182.68,255.58 C177.12,255.28 171.30,259.18 171.30,265.89 C171.30,272.06 174.59,275.00 178.07,275.00 C181.23,275.00 183.44,272.66 184.20,270.09 C184.96,272.66 187.17,275.00 190.33,275.00 C193.81,275.00 197.10,272.06 197.10,265.89 C197.10,259.18 191.28,255.28 185.72,255.58 L185.34,256.66 C189.51,256.78 192.23,260.37 192.23,264.87 C192.23,269.37 190.97,272.84 189.26,272.84 C187.49,272.84 185.84,270.56 185.21,268.29 C186.10,266.97 186.67,265.47 186.67,263.97 C186.67,261.57 185.59,258.88 184.20,258.82 C182.81,258.88 181.73,261.57 181.73,263.97 C181.73,265.47 182.30,266.97 183.19,268.29 C182.56,270.56 180.91,272.84 179.14,272.84 C177.43,272.84 176.17,269.37 176.17,264.87 C176.17,260.37 178.89,256.78 183.06,256.66 Z" fill="#000"/>
<path d="M154.79,474.28 C149.27,473.98 143.50,477.88 143.50,484.59 C143.50,490.76 146.76,493.70 150.21,493.70 C153.35,493.70 155.55,491.36 156.30,488.79 C157.05,491.36 159.25,493.70 162.39,493.70 C165.84,493.70 169.10,490.76 169.10,484.59 C169.10,477.88 163.33,473.98 157.81,474.28 L157.43,475.36 C161.57,475.48 164.27,479.07 164.27,483.57 C164.27,488.07 163.01,491.54 161.32,491.54 C159.56,491.54 157.93,489.26 157.30,486.99 C158.18,485.67 158.75,484.17 158.75,482.67 C158.75,480.27 157.68,477.58 156.30,477.52 C154.92,477.58 153.85,480.27 153.85,482.67 C153.85,484.17 154.42,485.67 155.30,486.99 C154.67,489.26 153.04,491.54 151.28,491.54 C149.59,491.54 148.33,488.07 148.33,483.57 C148.33,479.07 151.03,475.48 155.17,475.36 Z" fill="#000"/>
<text transform="translate(109.0,616.6) scale(1.0,1)" font-family="Liberation Sans" font-size="26.0" font-weight="bold" text-anchor="middle" stroke="#000" stroke-width="0.35" xml:space="preserve">0</text>
<path transform="translate(175.44,616.6) scale(0.01346,-0.01270)" d="M806,0 H525 V1059 Q371,915 162,846 V1101 Q272,1137 401,1237.5 Q530,1338 578,1472 H806 Z" fill="#000" stroke="#000" stroke-width="27.6" stroke-linejoin="miter"/>
<text transform="translate(257.8,616.6) scale(1.0,1)" font-family="Liberation Sans" font-size="26.0" font-weight="bold" text-anchor="middle" stroke="#000" stroke-width="0.35" xml:space="preserve">2</text>
<text transform="translate(332.2,616.6) scale(1.0,1)" font-family="Liberation Sans" font-size="26.0" font-weight="bold" text-anchor="middle" stroke="#000" stroke-width="0.35" xml:space="preserve">3</text>
<text transform="translate(406.6,616.6) scale(1.0,1)" font-family="Liberation Sans" font-size="26.0" font-weight="bold" text-anchor="middle" stroke="#000" stroke-width="0.35" xml:space="preserve">4</text>
<text transform="translate(481.0,616.6) scale(1.0,1)" font-family="Liberation Sans" font-size="26.0" font-weight="bold" text-anchor="middle" stroke="#000" stroke-width="0.35" xml:space="preserve">5</text>
<text transform="translate(85.3,594.0) scale(1.01,1)" font-family="Liberation Sans" font-size="26.0" font-weight="bold" text-anchor="start" stroke="#000" stroke-width="0.35" xml:space="preserve">0</text>
<text transform="translate(85.3,271.0) scale(1.01,1)" font-family="Liberation Sans" font-size="26.0" font-weight="bold" text-anchor="start" stroke="#000" stroke-width="0.35" xml:space="preserve">2</text>
<text transform="translate(63.7,513.2) scale(1.015,1)" font-family="Liberation Sans" font-size="26.0" font-weight="bold" text-anchor="start" stroke="#000" stroke-width="0.35" xml:space="preserve">0.5</text>
<path transform="translate(63.2,432.5) scale(0.01346,-0.01270)" d="M806,0 H525 V1059 Q371,915 162,846 V1101 Q272,1137 401,1237.5 Q530,1338 578,1472 H806 Z" fill="#000" stroke="#000" stroke-width="27.6" stroke-linejoin="miter"/>
<text transform="translate(78.7,432.5) scale(1.0,1)" font-family="Liberation Sans" font-size="26.0" font-weight="bold" text-anchor="start" stroke="#000" stroke-width="0.35" xml:space="preserve">.0</text>
<path transform="translate(63.2,351.7) scale(0.01346,-0.01270)" d="M806,0 H525 V1059 Q371,915 162,846 V1101 Q272,1137 401,1237.5 Q530,1338 578,1472 H806 Z" fill="#000" stroke="#000" stroke-width="27.6" stroke-linejoin="miter"/>
<text transform="translate(78.7,351.7) scale(1.0,1)" font-family="Liberation Sans" font-size="26.0" font-weight="bold" text-anchor="start" stroke="#000" stroke-width="0.35" xml:space="preserve">.5</text>
<text transform="translate(351.4,235.5) scale(1.0,1)" font-family="Liberation Serif" font-size="24.4" font-weight="bold" text-anchor="start" stroke="#000" stroke-width="0.3" xml:space="preserve">Bose</text>
<text transform="translate(352.0,269.7) scale(0.885,1)" font-family="Liberation Serif" font-size="24" font-weight="bold" text-anchor="start" stroke="#000" stroke-width="0.3" xml:space="preserve">m</text>
<text transform="translate(377.2,269.7) scale(1.0,1)" font-family="Liberation Serif" font-size="24" font-weight="bold" text-anchor="start" stroke="#000" stroke-width="0.2" xml:space="preserve">/</text>
<text transform="translate(389.7,269.7) scale(0.95,1)" font-family="Liberation Serif" font-size="23.6" font-weight="bold" text-anchor="start" stroke="#000" stroke-width="0.4" xml:space="preserve">T</text>
<text transform="translate(352.0,298.6) scale(0.885,1)" font-family="Liberation Serif" font-size="24" font-weight="bold" text-anchor="start" stroke="#000" stroke-width="0.3" xml:space="preserve">m</text>
<text transform="translate(377.2,298.6) scale(1.0,1)" font-family="Liberation Serif" font-size="24" font-weight="bold" text-anchor="start" stroke="#000" stroke-width="0.2" xml:space="preserve">/</text>
<text transform="translate(389.7,298.6) scale(0.95,1)" font-family="Liberation Serif" font-size="23.6" font-weight="bold" text-anchor="start" stroke="#000" stroke-width="0.4" xml:space="preserve">T</text>
<text transform="translate(352.0,327.5) scale(0.885,1)" font-family="Liberation Serif" font-size="24" font-weight="bold" text-anchor="start" stroke="#000" stroke-width="0.3" xml:space="preserve">m</text>
<text transform="translate(377.2,327.5) scale(1.0,1)" font-family="Liberation Serif" font-size="24" font-weight="bold" text-anchor="start" stroke="#000" stroke-width="0.2" xml:space="preserve">/</text>
<text transform="translate(389.7,327.5) scale(0.95,1)" font-family="Liberation Serif" font-size="23.6" font-weight="bold" text-anchor="start" stroke="#000" stroke-width="0.4" xml:space="preserve">T</text>
<text transform="translate(438.8,269.7) scale(1.0,1)" font-family="Liberation Serif" font-size="23.5" font-weight="bold" text-anchor="start" xml:space="preserve">0</text>
<text transform="translate(415.6,298.6) scale(1.0,1)" font-family="Liberation Serif" font-size="23.5" font-weight="bold" text-anchor="start" xml:space="preserve">=</text>
<text transform="translate(439.8,298.6) scale(1.0,1)" font-family="Liberation Serif" font-size="23.5" font-weight="bold" text-anchor="start" xml:space="preserve">1</text>
<text transform="translate(52.6,222) scale(0.99,1)" font-family="Liberation Serif" font-size="34.6" font-weight="bold" text-anchor="start" stroke="#000" stroke-width="0.2" xml:space="preserve">I</text>
<text transform="translate(52.6,283.8) scale(0.97,1)" font-family="Liberation Serif" font-size="33.5" font-weight="bold" text-anchor="start" stroke="#000" stroke-width="0.2" xml:space="preserve">j</text>
<text transform="translate(195.3,254) scale(1.02,1)" font-family="Liberation Serif" font-size="24.8" font-weight="bold" text-anchor="start" stroke="#000" stroke-width="0.3" xml:space="preserve">I</text>
<text transform="translate(195.5,292.9) scale(1.03,1)" font-family="Liberation Serif" font-size="25" font-weight="bold" text-anchor="start" stroke="#000" stroke-width="0.3" xml:space="preserve">0</text>
<text transform="translate(168.7,473.1) scale(1.02,1)" font-family="Liberation Serif" font-size="24.8" font-weight="bold" text-anchor="start" stroke="#000" stroke-width="0.3" xml:space="preserve">I</text>
</svg>
</body></html>
